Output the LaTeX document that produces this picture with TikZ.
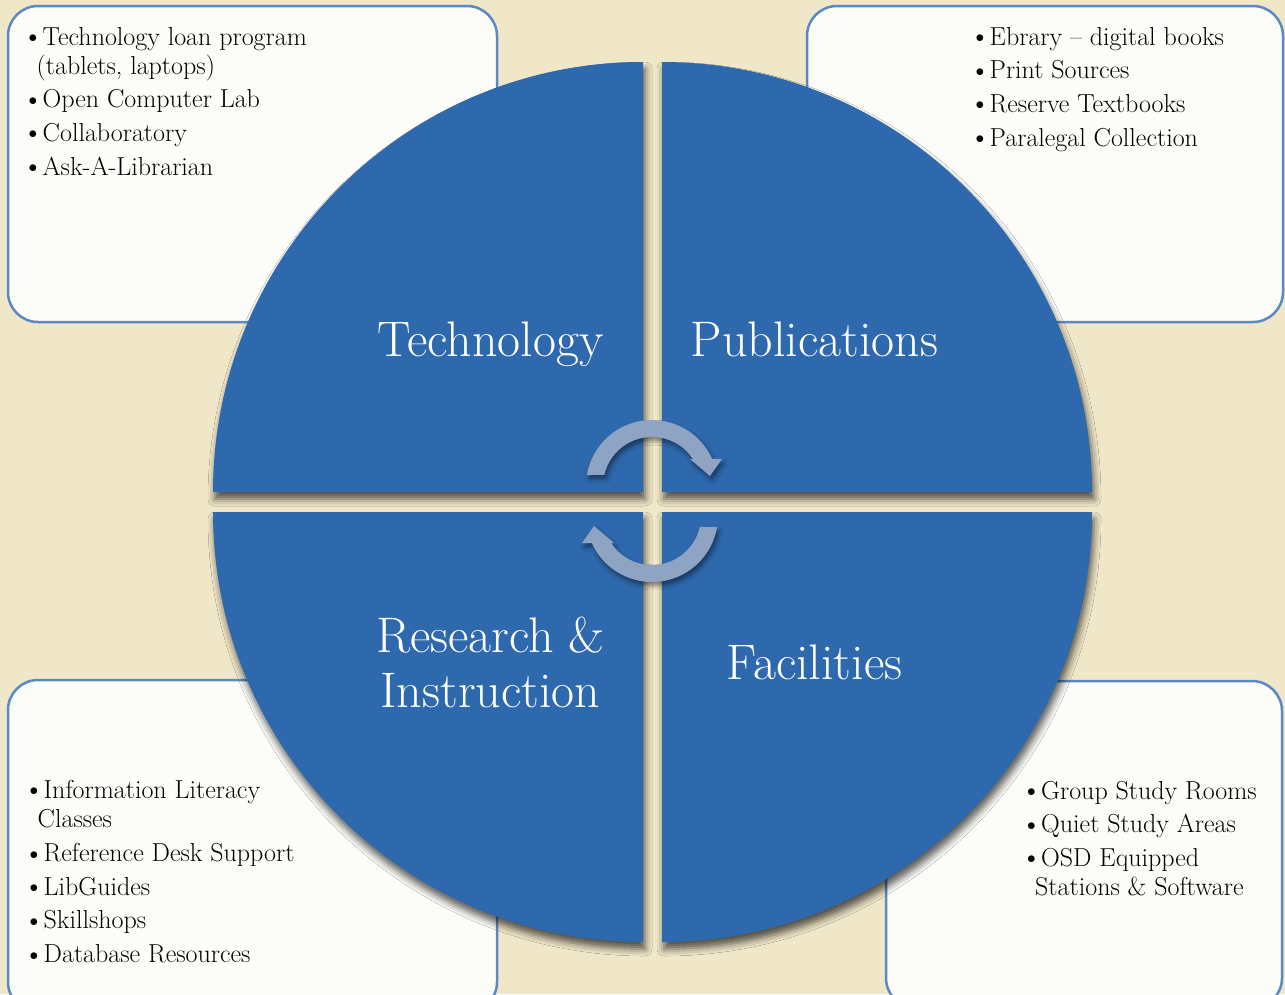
\documentclass[tikz,border=0pt]{standalone}
\usetikzlibrary{shadows.blur}
\definecolor{bgbeige}{HTML}{F0E6C8}
\definecolor{boxline}{HTML}{5A8AC6}
\definecolor{boxfill}{HTML}{FCFCF9}
\definecolor{quadblue}{HTML}{2E68AD}
\definecolor{arrowgray}{HTML}{8FA3C3}
\newcommand{\bul}{\makebox[14pt][l]{\raisebox{2.5pt}{\fontsize{19}{19}\selectfont$\bullet$}}}
\begin{document}
\begin{tikzpicture}[x=1pt,y=-1pt,
  infobox/.style={draw=boxline, line width=2.5pt, fill=boxfill, rounded corners=30pt, inner sep=0pt},
  quad/.style={fill=quadblue, blur shadow={shadow xshift=2pt, shadow yshift=-7pt, shadow blur radius=7pt, shadow opacity=65}},
  cyclearrow/.style={fill=arrowgray, blur shadow={shadow xshift=2pt, shadow yshift=-4pt, shadow blur radius=4pt, shadow opacity=45}},
  biglabel/.style={text=white, font=\fontsize{50}{55}\selectfont, inner sep=0pt, anchor=base},
  listtext/.style={text=black, font=\fontsize{26}{29}\selectfont, inner sep=0pt, anchor=base west}]
\useasboundingbox (0,0) rectangle (1285,994);
\clip (0,0) rectangle (1285,994);
\fill[bgbeige] (0,0) rectangle (1285,994);

% information boxes
\node[infobox, minimum width=489pt, minimum height=316pt] (techbox) at (252.5,164) {};
\node[infobox, minimum width=476pt, minimum height=316pt] (pubbox) at (1045,164) {};
\node[infobox, minimum width=489pt, minimum height=332pt] (resbox) at (252.5,846) {};
\node[infobox, minimum width=396pt, minimum height=327pt] (facbox) at (1084,844.5) {};

% quadrants
\path[quad] (643,492) -- (213,492) arc[start angle=180,end angle=270,radius=430] -- cycle;
\path[quad] (662,492) -- (662,62) arc[start angle=270,end angle=360,radius=430] -- cycle;
\path[quad] (643,512) -- (213,512) arc[start angle=180,end angle=90,radius=430] -- cycle;
\path[quad] (662,512) -- (1092,512) arc[start angle=0,end angle=90,radius=430] -- cycle;

% circular arrows
\path[cyclearrow] (586.9,475) arc[start angle=189.6,end angle=335.8,radius=66] -- (722,459) -- (710,476) -- (690,459) -- (692.9,459) arc[start angle=326.6,end angle=193,radius=49] -- cycle;
\begin{scope}[rotate around={180:(652,501)}]
\path[cyclearrow] (586.9,475) arc[start angle=189.6,end angle=335.8,radius=66] -- (722,459) -- (710,476) -- (690,459) -- (692.9,459) arc[start angle=326.6,end angle=193,radius=49] -- cycle;
\end{scope}

% quadrant labels
\node[biglabel] (techlabel) at (490.5,356) {Technology};
\node[biglabel] (publabel) at (814.5,356) {Publications};
\node[biglabel] (reslabel) at (490.5,652) {\begin{tabular}[t]{@{}c@{}}Research \&\\Instruction\end{tabular}};
\node[biglabel] (faclabel) at (814.5,679) {Facilities};

% lists
\node[listtext] (techlist) at (28.5,45) {\begin{tabular}[t]{@{}l@{}}
\bul Technology loan program\\
\hspace{8pt}(tablets, laptops)\\[4.7pt]
\bul Open Computer Lab\\[4.7pt]
\bul Collaboratory\\[4.7pt]
\bul Ask-A-Librarian
\end{tabular}};
\node[listtext] (publist) at (975.5,45) {\begin{tabular}[t]{@{}l@{}}
\bul Ebrary -- digital books\\[4.7pt]
\bul Print Sources\\[4.7pt]
\bul Reserve Textbooks\\[4.7pt]
\bul Paralegal Collection
\end{tabular}};
\node[listtext] (reslist) at (29.5,798) {\begin{tabular}[t]{@{}l@{}}
\bul Information Literacy\\
\hspace{8pt}Classes\\[5.5pt]
\bul Reference Desk Support\\[4.7pt]
\bul LibGuides\\[4.7pt]
\bul Skillshops\\[4.7pt]
\bul Database Resources
\end{tabular}};
\node[listtext] (faclist) at (1027,799) {\begin{tabular}[t]{@{}l@{}}
\bul Group Study Rooms\\[4.7pt]
\bul Quiet Study Areas\\[4.7pt]
\bul OSD Equipped\\
\hspace{8pt}Stations \& Software
\end{tabular}};
\end{tikzpicture}
\end{document}
